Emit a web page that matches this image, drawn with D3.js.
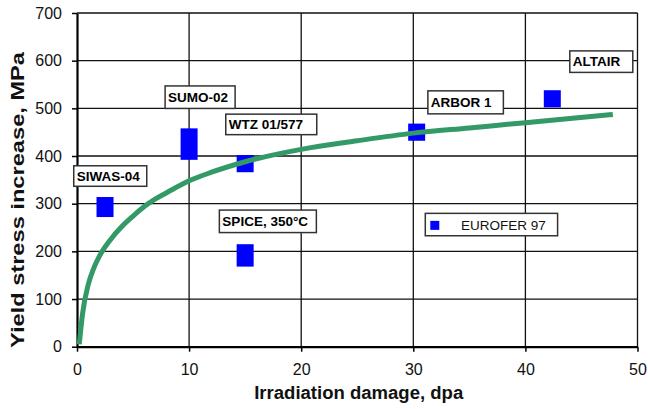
<!DOCTYPE html>
<html>
<head>
<meta charset="utf-8">
<script src="https://cdn.jsdelivr.net/npm/d3@7"></script>
<style>
  html, body { margin: 0; padding: 0; background: #fff; }
  svg { display: block; }
  text { font-family: "Liberation Sans", Arial, Helvetica, sans-serif; }
</style>
</head>
<body>
<svg id="chart" width="648" height="409"></svg>
<script>
// ---------------- DATA ----------------
const xTicks = [0, 10, 20, 30, 40, 50];
const yTicks = [0, 100, 200, 300, 400, 500, 600, 700];

// EUROFER 97 experiments: dose (dpa), low / high yield-stress increase (MPa)
const expNames = ["SIWAS-04", "SUMO-02", "WTZ 01/577", "SPICE, 350°C", "ARBOR 1", "ALTAIR"];
const expDose  = [2.5, 10.0, 15.0, 15.0, 30.3, 42.4];
const expLow   = [272, 392, 366, 168, 432, 502];
const expHigh  = [314, 458, 402, 215, 468, 538];

// trend curve
const curveDose   = [0.2, 0.5, 1.0, 1.5, 2.0, 3.0, 4.0, 5.0, 6.0, 7.0, 8.0, 10.0, 12.0, 15.0, 20.0, 25.0, 30.0, 35.0, 40.0, 47.8];
const curveStress = [5,   70,  130, 165, 190, 225, 252, 274, 294, 310, 323, 348,  366,  388,  414,  432,  448,  459,  470,  487];

const legendLabel = "EUROFER 97";
const xTitle = "Irradiation damage, dpa";
const yTitle = "Yield stress increase, MPa";

// ---------------- LAYOUT ----------------
const svg = d3.select("#chart");
const x = d3.scaleLinear().domain([0, 50]).range([77, 637.5]);
const y = d3.scaleLinear().domain([0, 700]).range([346.7, 13]);

// label boxes: anchor (top-left) in data units, size in px
const labelBoxes = [
  { name: "SIWAS-04",     lx: -0.29, ly: 379.5, w: 73,  h: 20.5 },
  { name: "SUMO-02",      lx: 7.86,  ly: 547,   w: 70,  h: 22.5 },
  { name: "WTZ 01/577",   lx: 13.27, ly: 487.8, w: 91,  h: 20.5 },
  { name: "SPICE, 350°C", lx: 12.7,  ly: 286.6, w: 97,  h: 22.5 },
  { name: "ARBOR 1",      lx: 31.3,  ly: 536.7, w: 75.5,h: 23 },
  { name: "ALTAIR",       lx: 43.96, ly: 620.5, w: 63,  h: 21.5 }
];

// ---------------- GRID ----------------
const grid = svg.append("g");
grid.selectAll("line.h").data(yTicks.slice(1)).join("line")
  .attr("x1", x(0)).attr("x2", x(50))
  .attr("y1", d => y(d)).attr("y2", d => y(d))
  .attr("stroke", "#111").attr("stroke-width", 1.3);
grid.selectAll("line.v").data(xTicks.slice(1)).join("line")
  .attr("x1", d => x(d)).attr("x2", d => x(d))
  .attr("y1", y(0)).attr("y2", y(700))
  .attr("stroke", "#111").attr("stroke-width", 1.3);

// ---------------- AXES ----------------
const xAxis = svg.append("g")
  .attr("transform", `translate(0,${y(0)})`)
  .call(d3.axisBottom(x).tickValues(xTicks).tickSize(5).tickPadding(11.5).tickSizeOuter(0));
const yAxis = svg.append("g")
  .attr("transform", `translate(${x(0)},0)`)
  .call(d3.axisLeft(y).tickValues(yTicks).tickSize(5).tickPadding(10).tickSizeOuter(0));
[xAxis, yAxis].forEach(a => {
  a.select(".domain").attr("stroke", "#000").attr("stroke-width", 2.2);
  a.selectAll(".tick line").attr("stroke", "#000").attr("stroke-width", 1.5);
  a.selectAll(".tick text").attr("fill", "#111").attr("font-size", 16)
    .attr("font-family", "Liberation Sans, Arial, sans-serif");
});

// ---------------- MARKERS ----------------
const exps = expNames.map((n, i) => ({ name: n, dose: expDose[i], lo: expLow[i], hi: expHigh[i] }));
svg.append("g").selectAll("rect").data(exps).join("rect")
  .attr("x", d => x(d.dose) - 8.5)
  .attr("width", 17)
  .attr("y", d => y(d.hi))
  .attr("height", d => y(d.lo) - y(d.hi))
  .attr("fill", "#0000ff");

// ---------------- CURVE ----------------
const curve = curveDose.map((d, i) => [d, curveStress[i]]);
svg.append("path")
  .datum(curve)
  .attr("d", d3.line().x(d => x(d[0])).y(d => y(d[1])).curve(d3.curveMonotoneX))
  .attr("fill", "none")
  .attr("stroke", "#339966")
  .attr("stroke-width", 5);

// ---------------- LABEL BOXES ----------------
const lb = svg.append("g").selectAll("g").data(labelBoxes).join("g")
  .attr("transform", d => `translate(${x(d.lx)},${y(d.ly)})`);
lb.append("rect")
  .attr("width", d => d.w).attr("height", d => d.h)
  .attr("fill", "#fff").attr("stroke", "#333").attr("stroke-width", 1.5);
lb.append("text")
  .attr("x", 3).attr("y", d => d.h / 2 + 4.8)
  .attr("font-size", 13.5).attr("font-weight", "bold").attr("fill", "#000")
  .text(d => d.name);

// ---------------- LEGEND ----------------
const lg = svg.append("g").attr("transform", `translate(${x(31.07)},${y(279.7)})`);
lg.append("rect").attr("width", 132.3).attr("height", 22.4)
  .attr("fill", "#fff").attr("stroke", "#333").attr("stroke-width", 1.5);
lg.append("rect").attr("x", 5).attr("y", 7.5).attr("width", 9).attr("height", 9).attr("fill", "#0000ff");
lg.append("text").attr("x", 35.7).attr("y", 16.5).attr("font-size", 13.5).attr("fill", "#111")
  .text(legendLabel);

// ---------------- TITLES ----------------
svg.append("text")
  .attr("x", 358.7).attr("y", 399)
  .attr("text-anchor", "middle")
  .attr("font-size", 17.5).attr("font-weight", "bold").attr("fill", "#111")
  .attr("textLength", 209).attr("lengthAdjust", "spacingAndGlyphs")
  .text(xTitle);
svg.append("text")
  .attr("transform", "translate(24,200) rotate(-90)")
  .attr("text-anchor", "middle")
  .attr("font-size", 17.5).attr("font-weight", "bold").attr("fill", "#111")
  .attr("textLength", 296).attr("lengthAdjust", "spacingAndGlyphs")
  .text(yTitle);
</script>
</body>
</html>
